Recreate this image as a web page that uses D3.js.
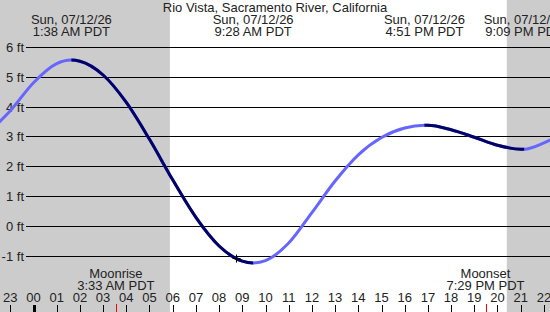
<!DOCTYPE html>
<html>
<head>
<meta charset="utf-8">
<script src="https://cdn.jsdelivr.net/npm/d3@7"></script>
<style>
  body { margin: 0; background: #fff; }
  svg { display: block; font-family: "Liberation Sans", Arial, sans-serif; font-size: 13px; }
</style>
</head>
<body>
<svg id="chart" width="550" height="312"></svg>
<script>
var title = 'Rio Vista, Sacramento River, California'
var dateLabel = 'Sun, 07/12/26'

// tide height (ft), hours from local midnight
var tideHours   = [-1.5, -1, 0, 1, 1.633, 2, 3, 4, 5, 6, 7, 8, 9, 9.467, 10, 11, 12, 13, 14, 15, 16, 16.85, 17, 18, 19, 20, 21, 21.15, 22, 22.4]
var tideHeights = [3.46, 3.86, 4.80, 5.44, 5.56, 5.52, 5.06, 4.14, 2.90, 1.54, 0.28, -0.68, -1.19, -1.25, -1.17, -0.58, 0.44, 1.50, 2.38, 2.96, 3.28, 3.37, 3.37, 3.22, 2.97, 2.70, 2.57, 2.57, 2.78, 2.92]

// high / low tide events
var eventHours  = [1.633, 9.467, 16.85, 21.15]
var eventLabels = ['1:38 AM PDT', '9:28 AM PDT', '4:51 PM PDT', '9:09 PM PDT']
// falling tide stretches (drawn dark)
var fallingFrom = [1.633, 16.85]
var fallingTo   = [9.467, 21.15]

var sunrise = 5.88, sunset = 20.4
var moonHours  = [3.55, 19.483]
var moonNames  = ['Moonrise', 'Moonset']
var moonLabels = ['3:33 AM PDT', '7:29 PM PDT']

var nowHour = 8.72, nowHeight = -1.08

var hourTicks  = d3.range(-1, 23)
var hourLabels = ['23', '00', '01', '02', '03', '04', '05', '06', '07', '08', '09', '10', '11',
  '12', '13', '14', '15', '16', '17', '18', '19', '20', '21', '22']
var feetTicks = [6, 5, 4, 3, 2, 1, 0, -1]

var W = 550, H = 312
var x = d3.scaleLinear().domain([-1, 22]).range([10.3, 543.9])
var y = d3.scaleLinear().domain([-1, 6]).range([255.5, 47])

var svg = d3.select('#chart')

// night shading
svg.append('rect').attr('x', 0).attr('y', 0).attr('width', x(sunrise)).attr('height', H).attr('fill', '#cccccc')
svg.append('rect').attr('x', x(sunset)).attr('y', 0).attr('width', W - x(sunset)).attr('height', H).attr('fill', '#cccccc')

// grid lines + labels
svg.selectAll('line.grid').data(feetTicks).enter()
  .append('line')
  .attr('class', 'grid')
  .attr('x1', 26).attr('x2', W)
  .attr('y1', function(d) { return Math.round(y(d)) + 0.5 })
  .attr('y2', function(d) { return Math.round(y(d)) + 0.5 })
  .attr('stroke', '#000').attr('stroke-width', 1)

svg.selectAll('text.ft').data(feetTicks).enter()
  .append('text')
  .attr('class', 'ft')
  .attr('x', 24)
  .attr('y', function(d) { return Math.round(y(d)) + 5 })
  .attr('text-anchor', 'end')
  .attr('fill', '#222')
  .text(function(d) { return d + ' ft' })

// tide curve
var line = d3.line()
  .x(function(d) { return x(d[0]) })
  .y(function(d) { return y(d[1]) })
  .curve(d3.curveMonotoneX)
var pts = d3.zip(tideHours, tideHeights)

var defs = svg.append('defs')
var clip = defs.append('clipPath').attr('id', 'falling')
clip.selectAll('rect').data(d3.zip(fallingFrom, fallingTo)).enter()
  .append('rect')
  .attr('x', function(d) { return x(d[0]) })
  .attr('width', function(d) { return x(d[1]) - x(d[0]) })
  .attr('y', 0).attr('height', H)

svg.append('path').attr('d', line(pts))
  .attr('fill', 'none').attr('stroke', '#6666ff').attr('stroke-width', 3)
svg.append('path').attr('d', line(pts))
  .attr('clip-path', 'url(#falling)')
  .attr('fill', 'none').attr('stroke', '#000066').attr('stroke-width', 3)

// current time cross
var cx = Math.round(x(nowHour)) + 0.5, cy = Math.round(y(nowHeight)) + 0.5
svg.append('path')
  .attr('d', ['M', cx - 4, cy, 'L', cx + 4, cy, 'M', cx, cy - 4, 'L', cx, cy + 4].join(' '))
  .attr('stroke', '#000').attr('stroke-width', 1)

// header
svg.append('text').attr('x', W / 2).attr('y', 12).attr('text-anchor', 'middle').attr('fill', '#222').text(title)
var ev = svg.selectAll('g.event').data(d3.zip(eventHours, eventLabels)).enter()
  .append('g').attr('class', 'event')
ev.append('text').attr('x', function(d) { return x(d[0]) }).attr('y', 24)
  .attr('text-anchor', 'middle').attr('fill', '#222').text(dateLabel)
ev.append('text').attr('x', function(d) { return x(d[0]) }).attr('y', 36)
  .attr('text-anchor', 'middle').attr('fill', '#222').text(function(d) { return d[1] })

// moon rise / set
var moon = svg.selectAll('g.moon').data(d3.range(moonHours.length)).enter()
  .append('g').attr('class', 'moon')
moon.append('text').attr('x', function(i) { return x(moonHours[i]) }).attr('y', 278)
  .attr('text-anchor', 'middle').attr('fill', '#222').text(function(i) { return moonNames[i] })
moon.append('text').attr('x', function(i) { return x(moonHours[i]) }).attr('y', 290)
  .attr('text-anchor', 'middle').attr('fill', '#222').text(function(i) { return moonLabels[i] })
moon.append('line')
  .attr('x1', function(i) { return Math.round(x(moonHours[i])) + 0.5 })
  .attr('x2', function(i) { return Math.round(x(moonHours[i])) + 0.5 })
  .attr('y1', 304).attr('y2', H)
  .attr('stroke', '#ff0000').attr('stroke-width', 1)

// hour axis
svg.selectAll('text.hour').data(hourTicks).enter()
  .append('text')
  .attr('class', 'hour')
  .attr('x', function(d) { return x(d) })
  .attr('y', 302)
  .attr('text-anchor', 'middle')
  .attr('fill', '#222')
  .text(function(d, i) { return hourLabels[i] })

svg.selectAll('line.hour').data(hourTicks).enter()
  .append('line')
  .attr('class', 'hour')
  .attr('x1', function(d) { return Math.round(x(d)) + 0.5 })
  .attr('x2', function(d) { return Math.round(x(d)) + 0.5 })
  .attr('y1', 305).attr('y2', H)
  .attr('stroke', '#000')
  .attr('stroke-width', function(d) { return d === 0 ? 3 : 1 })
</script>
</body>
</html>
